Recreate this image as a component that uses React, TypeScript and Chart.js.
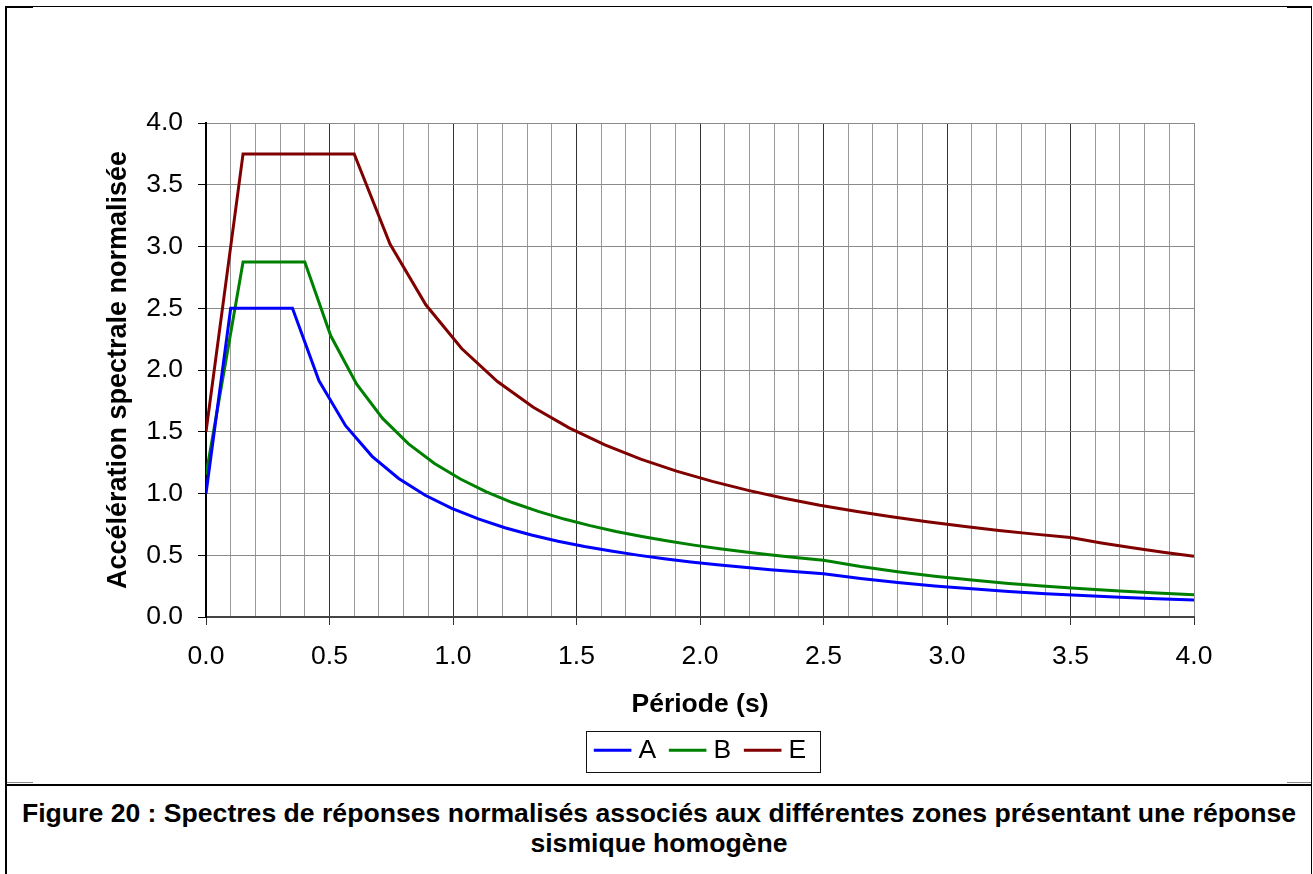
import React, { useEffect, useRef } from 'react';
import { Chart, registerables } from 'chart.js';

Chart.register(...registerables);

const FONT = "'Liberation Sans', Arial, Helvetica, sans-serif";

const seriesNames = ['A', 'B', 'E'];
const seriesColors = ['#0000FF', '#008000', '#800000'];

const periodsA = [0, 0.1, 0.35, 0.4575, 0.565, 0.6725, 0.78, 0.8875, 0.995, 1.1025, 1.21, 1.3175, 1.425, 1.5325, 1.64, 1.7475, 1.855, 1.9625, 2.07, 2.1775, 2.285, 2.3925, 2.5, 2.65, 2.8, 2.95, 3.1, 3.25, 3.4, 3.55, 3.7, 3.85, 4.0];
const valuesA = [1.0, 2.5, 2.5, 1.913, 1.549, 1.301, 1.122, 0.986, 0.879, 0.794, 0.723, 0.664, 0.614, 0.571, 0.534, 0.501, 0.472, 0.446, 0.423, 0.402, 0.383, 0.366, 0.35, 0.312, 0.279, 0.251, 0.228, 0.207, 0.189, 0.174, 0.160, 0.148, 0.137];

const periodsB = [0, 0.15, 0.4, 0.505, 0.61, 0.715, 0.82, 0.925, 1.03, 1.135, 1.24, 1.345, 1.45, 1.555, 1.66, 1.765, 1.87, 1.975, 2.08, 2.185, 2.29, 2.395, 2.5, 2.65, 2.8, 2.95, 3.1, 3.25, 3.4, 3.55, 3.7, 3.85, 4.0];
const valuesB = [1.15, 2.875, 2.875, 2.277, 1.885, 1.608, 1.402, 1.243, 1.117, 1.013, 0.927, 0.855, 0.793, 0.740, 0.693, 0.652, 0.615, 0.582, 0.553, 0.526, 0.502, 0.480, 0.46, 0.409, 0.367, 0.330, 0.299, 0.272, 0.249, 0.228, 0.210, 0.194, 0.180];

const periodsE = [0, 0.15, 0.6, 0.745, 0.89, 1.035, 1.18, 1.325, 1.47, 1.615, 1.76, 1.905, 2.05, 2.195, 2.34, 2.485, 2.63, 2.775, 2.92, 3.065, 3.21, 3.355, 3.5, 3.625, 3.75, 3.875, 4.0];
const valuesE = [1.5, 3.75, 3.75, 3.020, 2.528, 2.174, 1.907, 1.698, 1.531, 1.393, 1.278, 1.181, 1.098, 1.025, 0.962, 0.905, 0.856, 0.811, 0.771, 0.734, 0.701, 0.671, 0.643, 0.599, 0.560, 0.524, 0.492];

const seriesPeriods = [periodsA, periodsB, periodsE];
const seriesValues = [valuesA, valuesB, valuesE];

const xAxisTitle = 'Période (s)';
const yAxisTitle = 'Accélération spectrale normalisée';
const captionLine1 = 'Figure 20 : Spectres de réponses normalisés associés aux différentes zones présentant une réponse';
const captionLine2 = 'sismique homogène';

const isMajor = (v: number) => Math.abs(v * 2 - Math.round(v * 2)) < 1e-6;

// Draws the legend sample lines (longer than the library's text gap allows) and the frame around the legend.
const legendDecor = {
  id: 'legendDecor',
  afterDraw(chart: any) {
    const lg = chart.legend;
    if (!lg || !lg.legendHitBoxes || !lg.legendHitBoxes.length) return;
    const hb = lg.legendHitBoxes;
    const ctx = chart.ctx;
    ctx.save();
    let cy = 0;
    hb.forEach((b: any, i: number) => {
      cy = b.top + b.height / 2;
      ctx.strokeStyle = seriesColors[i];
      ctx.lineWidth = 3;
      ctx.lineCap = 'butt';
      ctx.beginPath();
      ctx.moveTo(b.left, cy);
      ctx.lineTo(b.left + 37.6, cy);
      ctx.stroke();
    });
    const first = hb[0];
    const last = hb[hb.length - 1];
    const left = Math.round(first.left - 7.7);
    const right = Math.round(last.left + last.width + 14.3);
    const top = Math.round(cy - 19.5);
    const bottom = Math.round(cy + 21.5);
    ctx.strokeStyle = '#111';
    ctx.lineWidth = 1;
    ctx.strokeRect(left + 0.5, top + 0.5, right - left, bottom - top);
    ctx.restore();
  },
};

export default function App() {
  const ref = useRef<HTMLCanvasElement>(null);

  useEffect(() => {
    document.body.style.overflow = 'hidden';
    const canvas = ref.current;
    if (!canvas) return;
    const tickFont = { family: FONT, size: 26.5, lineHeight: 1.2 };
    const chart = new Chart(canvas, {
      type: 'line',
      data: {
        datasets: seriesNames.map((name, i) => ({
          label: name,
          data: seriesPeriods[i].map((x, j) => ({ x, y: seriesValues[i][j] })),
          borderColor: seriesColors[i],
          backgroundColor: seriesColors[i],
          borderWidth: 3,
          pointRadius: 0,
          pointHoverRadius: 0,
          tension: 0,
          fill: false,
        })),
      },
      options: {
        responsive: false,
        animation: false,
        devicePixelRatio: 1,
        events: [],
        layout: { padding: { left: 0, right: 117, top: 116, bottom: 10.45 } },
        plugins: {
          tooltip: { enabled: false },
          legend: {
            position: 'bottom',
            fullSize: false,
            labels: {
              usePointStyle: true,
              pointStyleWidth: 31.4,
              padding: 12.7,
              color: '#000',
              font: { family: FONT, size: 26.5 },
              generateLabels: (c: any) =>
                c.data.datasets.map((ds: any, i: number) => ({
                  text: ds.label,
                  fillStyle: 'rgba(0,0,0,0)',
                  strokeStyle: 'rgba(0,0,0,0)',
                  lineWidth: 0,
                  pointStyle: 'line',
                  hidden: false,
                  datasetIndex: i,
                  fontColor: '#000',
                })),
            },
          },
        },
        scales: {
          x: {
            type: 'linear',
            min: 0,
            max: 4,
            afterFit: (s: any) => {
              s.height = 107.35;
            },
            ticks: {
              stepSize: 0.1,
              autoSkip: false,
              maxRotation: 0,
              minRotation: 0,
              padding: 15.6,
              color: '#000',
              font: tickFont,
              callback: (v: any) => (isMajor(Number(v)) ? Number(v).toFixed(1) : ''),
            },
            grid: {
              lineWidth: 1,
              tickLength: 8,
              color: (c: any) => {
                const v = c.tick ? c.tick.value : 0;
                if (Math.abs(v - 4) < 1e-6) return '#8a8a8a';
                return isMajor(v) ? '#333' : '#9a9a9a';
              },
              tickColor: (c: any) => {
                const v = c.tick ? c.tick.value : 0;
                return isMajor(v) ? '#333' : 'rgba(0,0,0,0)';
              },
            },
            border: { color: '#444', width: 2 },
            title: {
              display: true,
              text: xAxisTitle,
              color: '#000',
              font: { family: FONT, size: 26.5, weight: 'bold', lineHeight: 1.2 },
              padding: { top: 0, bottom: 3.45 },
            },
          },
          y: {
            type: 'linear',
            min: 0,
            max: 4,
            afterFit: (s: any) => {
              s.width = 199;
            },
            ticks: {
              stepSize: 0.5,
              padding: 15,
              color: '#000',
              font: tickFont,
              callback: (v: any) => Number(v).toFixed(1),
            },
            grid: { color: '#8a8a8a', tickColor: '#000', tickLength: 8, lineWidth: 1 },
            border: { color: '#000', width: 2 },
            title: {
              display: true,
              text: yAxisTitle,
              color: '#000',
              font: { family: FONT, size: 27, weight: 'bold', lineHeight: 1.2 },
              padding: { top: 95.8, bottom: 0 },
            },
          },
        },
      },
      plugins: [legendDecor],
    } as any);
    return () => chart.destroy();
  }, []);

  const line = (s: React.CSSProperties) => <div style={{ position: 'absolute', ...s }} />;

  return (
    <div style={{ position: 'absolute', left: 0, top: 0, width: 1313, height: 874, overflow: 'hidden', background: '#fff' }}>
      {line({ left: 5, top: 6, width: 1307, height: 1, background: '#000' })}
      {line({ left: 7, top: 6, width: 26, height: 2, background: '#000' })}
      {line({ left: 1287, top: 6, width: 25, height: 2, background: '#000' })}
      {line({ left: 5, top: 6, width: 2, height: 868, background: '#000' })}
      {line({ left: 1311, top: 6, width: 1, height: 868, background: '#000' })}
      {line({ left: 7, top: 782, width: 26, height: 1, background: '#888' })}
      {line({ left: 1287, top: 782, width: 24, height: 1, background: '#888' })}
      {line({ left: 5, top: 784, width: 1307, height: 2, background: '#000' })}
      <div style={{ position: 'absolute', left: 7, top: 7, width: 1304, height: 777 }}>
        <canvas ref={ref} width={1304} height={777} style={{ display: 'block', width: 1304, height: 777 }} />
      </div>
      <div
        style={{
          position: 'absolute',
          left: 6,
          top: 798,
          width: 1306,
          textAlign: 'center',
          fontFamily: FONT,
          fontWeight: 'bold',
          fontSize: 26.6,
          lineHeight: '30px',
          whiteSpace: 'nowrap',
          color: '#000',
        }}
      >
        {captionLine1}
        <br />
        {captionLine2}
      </div>
    </div>
  );
}
